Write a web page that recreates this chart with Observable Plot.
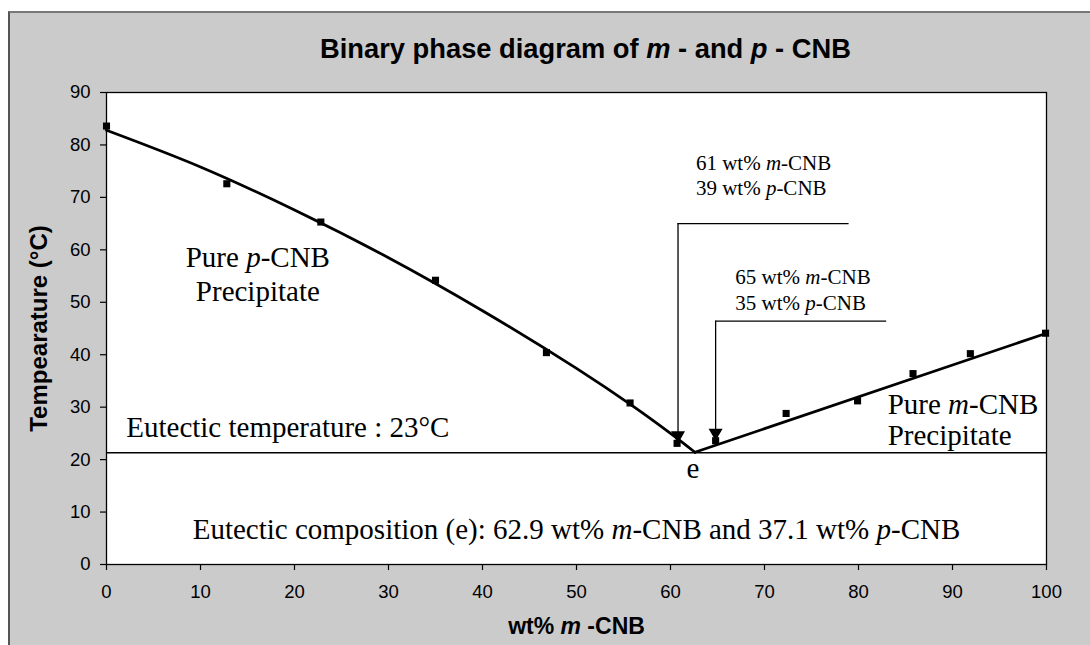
<!DOCTYPE html>
<html><head><meta charset="utf-8">
<script src="https://cdn.jsdelivr.net/npm/d3@7"></script>
<script src="https://cdn.jsdelivr.net/npm/@observablehq/plot@0.6"></script>
<style>
html,body{margin:0;padding:0;background:#fff;}
#wrap{position:relative;width:1090px;height:645px;overflow:hidden;}
#bg{position:absolute;left:8px;top:11px;right:0;bottom:0;background:#cbcbcb;border-left:2px solid #555;border-top:2px solid #777;}
#chart{position:absolute;left:0;top:0;}
</style></head><body>
<div id="wrap"><div id="bg"></div><div id="chart"></div></div>
<script>
// ---- data ----
const xTicks = [0, 10, 20, 30, 40, 50, 60, 70, 80, 90, 100];
const yTicks = [0, 10, 20, 30, 40, 50, 60, 70, 80, 90];

// measured points (wt% m-CNB, temperature °C)
const measX = [0, 12.8, 22.8, 35, 46.8, 55.7, 60.7, 64.8, 72.3, 79.9, 85.8, 91.9, 99.9];
const measY = [83.6, 72.6, 65.3, 54.2, 40.4, 30.8, 23.1, 23.6, 28.8, 31.2, 36.4, 40.2, 44.1];

// p-CNB liquidus curve (left branch)
const leftCurveX = [0, 10, 20, 30, 40, 50, 56, 60, 62.6];
const leftCurveY = [82.8, 75.8, 67.6, 58.5, 48.4, 37.4, 30.2, 25.0, 21.4];
// m-CNB liquidus line (right branch)
const rightCurveX = [62.6, 100];
const rightCurveY = [21.4, 44.1];

const eutecticLine = [21.3];

// composition arrows
const arrowX = [60.8, 64.8];
const arrowTop = [65, 46.4];
const arrowTip = [23.1, 23.6];
const arrowEnd = [79, 83];

// annotations
const noteText = [
  "Pure {p}-CNB\nPrecipitate",
  "Pure {m}-CNB\nPrecipitate",
  "61 wt% {m}-CNB\n39 wt% {p}-CNB",
  "65 wt% {m}-CNB\n35 wt% {p}-CNB",
  "Eutectic temperature : 23°C",
  "e",
  "Eutectic composition (e): 62.9 wt% {m}-CNB and 37.1 wt% {p}-CNB"
];
const noteX = [16.1, 83.1, 62.7, 66.9, 2.1, 62.4, 50];
const noteY = [50.2, 22.7, 70.4, 48.5, 24.4, 16.4, 4.8];
const noteSize = [29, 29, 21, 21, 29, 29, 29];
const noteAnchor = ["middle", "start", "start", "start", "start", "middle", "middle"];
const noteLineHeight = [1.17, 1.1, 1.19, 1.25, 1, 1, 1];

const titleText = "Binary phase diagram of {m} - and {p} - CNB";
const xLabel = "wt% {m} -CNB";
const yLabel = "Tempearature (°C)";

// ---- build ----
const points = measX.map((x, i) => ({x, y: measY[i]}));
const leftCurve = leftCurveX.map((x, i) => ({x, y: leftCurveY[i]}));
const rightCurve = rightCurveX.map((x, i) => ({x, y: rightCurveY[i]}));
const arrows = arrowX.map((x, i) => ({x, top: arrowTop[i], tip: arrowTip[i], end: arrowEnd[i]}));

const serif = "'Liberation Serif', 'Times New Roman', serif";
const sans = "'Liberation Sans', Arial, sans-serif";

const noteMarks = noteText.map((t, i) => Plot.text([{x: noteX[i], y: noteY[i], t}], {
  x: "x", y: "y", text: "t",
  fontSize: noteSize[i], fontFamily: serif, fill: "black",
  textAnchor: noteAnchor[i], lineAnchor: "bottom", lineHeight: noteLineHeight[i]
}));

const chart = Plot.plot({
  width: 1090, height: 645,
  marginLeft: 106, marginRight: 44, marginTop: 92, marginBottom: 81,
  style: {background: "transparent", fontFamily: sans, fontSize: "18px", color: "black"},
  x: {domain: [0, 100], label: null},
  y: {domain: [0, 90], label: null},
  marks: [
    Plot.frame({fill: "white"}),
    Plot.ruleY(eutecticLine, {stroke: "black", strokeWidth: 1.6}),
    Plot.ruleX(arrows, {x: "x", y1: "top", y2: "tip", stroke: "black", strokeWidth: 1.3}),
    Plot.ruleY(arrows, {y: "top", x1: "x", x2: "end", stroke: "black", strokeWidth: 1.3}),
    Plot.dot(arrows, {x: "x", y: "tip", symbol: "triangle", rotate: 180, r: 5.2, fill: "black", dy: -8}),
    Plot.line(leftCurve, {x: "x", y: "y", curve: "catmull-rom", stroke: "black", strokeWidth: 2.8}),
    Plot.line(rightCurve, {x: "x", y: "y", stroke: "black", strokeWidth: 2.8}),
    Plot.dot(points, {x: "x", y: "y", symbol: "square", r: 4, fill: "black"}),
    ...noteMarks,
    Plot.axisX({ticks: xTicks, tickSize: 6, tickPadding: 14, fontSize: 18.5, fontFamily: sans, stroke: "black", fill: "black", strokeWidth: 1.2}),
    Plot.axisY({ticks: yTicks, tickSize: 6, tickPadding: 10, fontSize: 18.5, fontFamily: sans, stroke: "black", fill: "black", strokeWidth: 1.2}),
    Plot.text([titleText], {frameAnchor: "top", text: d => d, dx: 9, dy: -35, textAnchor: "middle", lineAnchor: "bottom", fontSize: 27.3, fontWeight: "bold", fontFamily: sans, fill: "black"}),
    Plot.text([xLabel], {frameAnchor: "bottom", text: d => d, dy: 69, textAnchor: "middle", lineAnchor: "bottom", fontSize: 23, fontWeight: "bold", fontFamily: sans, fill: "black"}),
    Plot.text([yLabel], {frameAnchor: "left", text: d => d, dx: -67, rotate: -90, textAnchor: "middle", lineAnchor: "middle", fontSize: 24, fontWeight: "bold", fontFamily: sans, fill: "black"}),
    Plot.frame({stroke: "black", strokeWidth: 1.3})
  ]
});

// italic segments marked with {…}
const NS = "http://www.w3.org/2000/svg";
chart.querySelectorAll("text, tspan").forEach(el => {
  if (el.children.length === 0 && el.textContent.includes("{")) {
    const parts = el.textContent.split(/\{([^}]*)\}/);
    el.textContent = "";
    parts.forEach((p, i) => {
      if (!p) return;
      const t = document.createElementNS(NS, "tspan");
      t.textContent = p;
      if (i % 2) t.setAttribute("font-style", "italic");
      el.appendChild(t);
    });
  }
});

document.getElementById("chart").appendChild(chart);
</script>
</body></html>
